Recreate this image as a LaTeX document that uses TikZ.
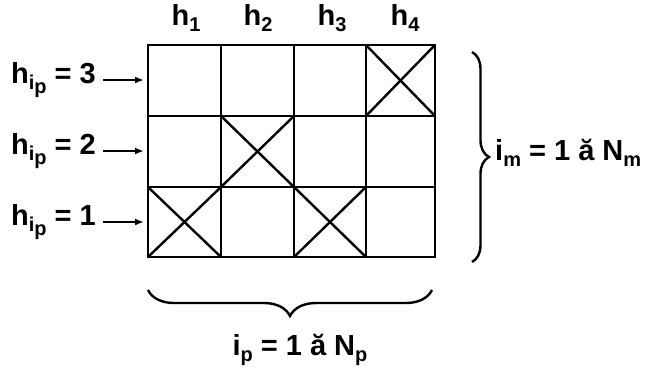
\documentclass[tikz,border=0pt]{standalone}
\usepackage{fontspec}
\setmainfont{Liberation Sans}
\usetikzlibrary{decorations.pathreplacing,arrows.meta}
\newcommand{\lowsub}[1]{\raisebox{-0.4ex}{\fontsize{20}{22}\selectfont #1}}
\begin{document}
\begin{tikzpicture}[x=1pt,y=-1pt,line width=2.4pt,
  lbl/.style={font=\fontsize{29}{33}\selectfont\bfseries, inner sep=0pt},
  arr/.style={-{Latex[length=9pt,width=7pt]},line width=1.8pt},
  brc/.style={decorate,line width=2.4pt}]
\useasboundingbox (0,0) rectangle (662,378);
% grid coordinates
\foreach \i/\x in {0/148,1/221,2/294,3/366,4/435}{
  \foreach \j/\y in {0/45,1/116,2/187,3/257}{
    \coordinate (g\i\j) at (\x,\y);
  }
}
\draw (g00) rectangle (g43);
\foreach \i in {1,2,3} \draw (g\i0) -- (g\i3);
\foreach \j in {1,2} \draw (g0\j) -- (g4\j);
% crossed cells
\draw (g30) -- (g41) (g40) -- (g31);
\draw (g11) -- (g22) (g21) -- (g12);
\draw (g02) -- (g13) (g12) -- (g03);
\draw (g22) -- (g33) (g32) -- (g23);
% column labels
\node[lbl] (h1) at (186,18) {h\lowsub{1}};
\node[lbl] (h2) at (258,18) {h\lowsub{2}};
\node[lbl] (h3) at (332,18) {h\lowsub{3}};
\node[lbl] (h4) at (405,18) {h\lowsub{4}};
% row labels
\node[lbl,anchor=west] (r3) at (10,80) {h\lowsub{i\lowsub{p}} = 3};
\node[lbl,anchor=west] (r2) at (10,151) {h\lowsub{i\lowsub{p}} = 2};
\node[lbl,anchor=west] (r1) at (10,222) {h\lowsub{i\lowsub{p}} = 1};
\coordinate (a3) at (144,80);
\coordinate (a2) at (144,151);
\coordinate (a1) at (144,222);
\draw[arr] ([xshift=6pt]r3.east) -- (a3);
\draw[arr] ([xshift=6pt]r2.east) -- (a2);
\draw[arr] ([xshift=6pt]r1.east) -- (a1);
% braces
\coordinate (rb1) at (472,52);
\coordinate (rb2) at (472,262);
\draw[brc,decoration={brace,amplitude=17pt}] (rb1) -- (rb2);
\node[lbl,anchor=west] (im) at (494,153) {i\lowsub{m} = 1 ă N\lowsub{m}};
\coordinate (bb1) at (432,290);
\coordinate (bb2) at (148,290);
\draw[brc,decoration={brace,amplitude=26pt}] (bb1) -- (bb2);
\node[lbl] (ip) at (300,350) {i\lowsub{p} = 1 ă N\lowsub{p}};
\end{tikzpicture}
\end{document}
